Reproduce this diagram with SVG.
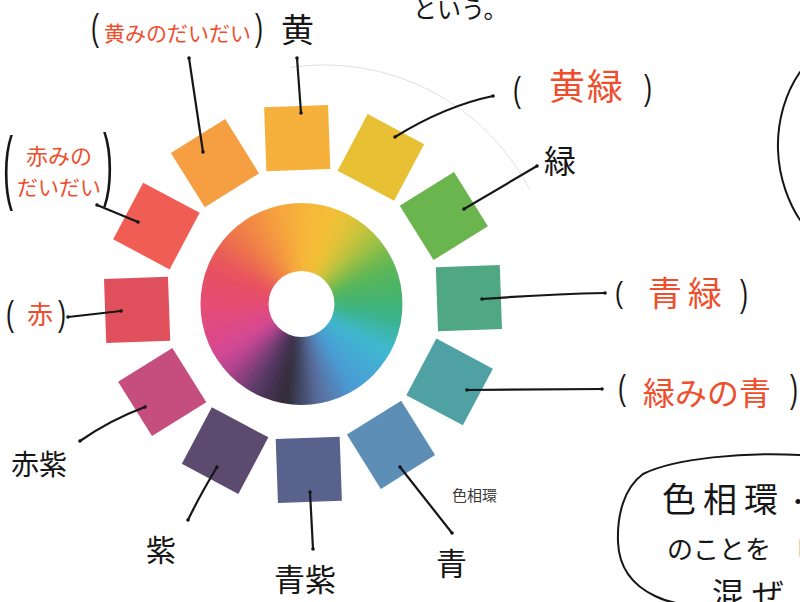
<svg xmlns="http://www.w3.org/2000/svg" width="800" height="602" viewBox="0 0 800 602">
<defs>
<style>
.lbl{font-family:"Noto Sans CJK JP","Noto Sans CJK SC",sans-serif;fill:#161616}
.red{fill:#EE4E2C}
.par{font-family:"Liberation Sans",sans-serif;fill:#161616}
.ln{stroke:#161616;stroke-width:2.2;fill:none;stroke-linecap:round;marker-start:url(#dot);marker-end:url(#dot)}
.bub{stroke:#161616;stroke-width:2;fill:none;stroke-linecap:round}
.seg{fill:none;stroke-width:100}
</style>
<marker id="dot" viewBox="-2 -2 4 4" markerWidth="4" markerHeight="4" markerUnits="userSpaceOnUse"><circle r="1.8" fill="#161616"/></marker>
<filter id="blur" x="-20%" y="-20%" width="140%" height="140%"><feGaussianBlur stdDeviation="6"/></filter>
<clipPath id="ring"><path clip-rule="evenodd" d="M200.5,304a101,101 0 1,0 202,0a101,101 0 1,0 -202,0ZM268.5,304a33,33 0 1,0 66,0a33,33 0 1,0 -66,0Z"/></clipPath>
</defs>
<rect width="800" height="602" fill="#fff"/>
<path d="M290.7,67.3A232,232 0 0 1 530,190" fill="none" stroke="#e0e0e0" stroke-width="1"/>
<g id="wheel" clip-path="url(#ring)">
<g filter="url(#blur)">
<circle class="seg" cx="301.5" cy="304" r="65" pathLength="360" stroke-dasharray="12 348" stroke="#F7B53A" transform="rotate(-96 301.5 304)"/>
<circle class="seg" cx="301.5" cy="304" r="65" pathLength="360" stroke-dasharray="12 348" stroke="#F5BA38" transform="rotate(-86 301.5 304)"/>
<circle class="seg" cx="301.5" cy="304" r="65" pathLength="360" stroke-dasharray="12 348" stroke="#F3BF36" transform="rotate(-76 301.5 304)"/>
<circle class="seg" cx="301.5" cy="304" r="65" pathLength="360" stroke-dasharray="12 348" stroke="#E4C237" transform="rotate(-66 301.5 304)"/>
<circle class="seg" cx="301.5" cy="304" r="65" pathLength="360" stroke-dasharray="12 348" stroke="#C6C33C" transform="rotate(-56 301.5 304)"/>
<circle class="seg" cx="301.5" cy="304" r="65" pathLength="360" stroke-dasharray="12 348" stroke="#A1C143" transform="rotate(-46 301.5 304)"/>
<circle class="seg" cx="301.5" cy="304" r="65" pathLength="360" stroke-dasharray="12 348" stroke="#74BA4D" transform="rotate(-36 301.5 304)"/>
<circle class="seg" cx="301.5" cy="304" r="65" pathLength="360" stroke-dasharray="12 348" stroke="#58B659" transform="rotate(-26 301.5 304)"/>
<circle class="seg" cx="301.5" cy="304" r="65" pathLength="360" stroke-dasharray="12 348" stroke="#4DB566" transform="rotate(-16 301.5 304)"/>
<circle class="seg" cx="301.5" cy="304" r="65" pathLength="360" stroke-dasharray="12 348" stroke="#42B473" transform="rotate(-6 301.5 304)"/>
<circle class="seg" cx="301.5" cy="304" r="65" pathLength="360" stroke-dasharray="12 348" stroke="#3DB48B" transform="rotate(4 301.5 304)"/>
<circle class="seg" cx="301.5" cy="304" r="65" pathLength="360" stroke-dasharray="12 348" stroke="#3EB6AE" transform="rotate(14 301.5 304)"/>
<circle class="seg" cx="301.5" cy="304" r="65" pathLength="360" stroke-dasharray="12 348" stroke="#3FB8D0" transform="rotate(24 301.5 304)"/>
<circle class="seg" cx="301.5" cy="304" r="65" pathLength="360" stroke-dasharray="12 348" stroke="#43AED2" transform="rotate(34 301.5 304)"/>
<circle class="seg" cx="301.5" cy="304" r="65" pathLength="360" stroke-dasharray="12 348" stroke="#46A5D3" transform="rotate(44 301.5 304)"/>
<circle class="seg" cx="301.5" cy="304" r="65" pathLength="360" stroke-dasharray="12 348" stroke="#4A9BD5" transform="rotate(54 301.5 304)"/>
<circle class="seg" cx="301.5" cy="304" r="65" pathLength="360" stroke-dasharray="12 348" stroke="#5284B9" transform="rotate(64 301.5 304)"/>
<circle class="seg" cx="301.5" cy="304" r="65" pathLength="360" stroke-dasharray="12 348" stroke="#5A6D9E" transform="rotate(74 301.5 304)"/>
<circle class="seg" cx="301.5" cy="304" r="65" pathLength="360" stroke-dasharray="12 348" stroke="#444B69" transform="rotate(84 301.5 304)"/>
<circle class="seg" cx="301.5" cy="304" r="65" pathLength="360" stroke-dasharray="12 348" stroke="#2E2A34" transform="rotate(94 301.5 304)"/>
<circle class="seg" cx="301.5" cy="304" r="65" pathLength="360" stroke-dasharray="12 348" stroke="#44324F" transform="rotate(104 301.5 304)"/>
<circle class="seg" cx="301.5" cy="304" r="65" pathLength="360" stroke-dasharray="12 348" stroke="#5A3A6A" transform="rotate(114 301.5 304)"/>
<circle class="seg" cx="301.5" cy="304" r="65" pathLength="360" stroke-dasharray="12 348" stroke="#89407D" transform="rotate(124 301.5 304)"/>
<circle class="seg" cx="301.5" cy="304" r="65" pathLength="360" stroke-dasharray="12 348" stroke="#B84590" transform="rotate(134 301.5 304)"/>
<circle class="seg" cx="301.5" cy="304" r="65" pathLength="360" stroke-dasharray="12 348" stroke="#D44994" transform="rotate(144 301.5 304)"/>
<circle class="seg" cx="301.5" cy="304" r="65" pathLength="360" stroke-dasharray="12 348" stroke="#DB4A89" transform="rotate(154 301.5 304)"/>
<circle class="seg" cx="301.5" cy="304" r="65" pathLength="360" stroke-dasharray="12 348" stroke="#E24B7E" transform="rotate(164 301.5 304)"/>
<circle class="seg" cx="301.5" cy="304" r="65" pathLength="360" stroke-dasharray="12 348" stroke="#E54D74" transform="rotate(174 301.5 304)"/>
<circle class="seg" cx="301.5" cy="304" r="65" pathLength="360" stroke-dasharray="12 348" stroke="#E54E6B" transform="rotate(184 301.5 304)"/>
<circle class="seg" cx="301.5" cy="304" r="65" pathLength="360" stroke-dasharray="12 348" stroke="#E64F62" transform="rotate(194 301.5 304)"/>
<circle class="seg" cx="301.5" cy="304" r="65" pathLength="360" stroke-dasharray="12 348" stroke="#E8595A" transform="rotate(204 301.5 304)"/>
<circle class="seg" cx="301.5" cy="304" r="65" pathLength="360" stroke-dasharray="12 348" stroke="#EC6A51" transform="rotate(214 301.5 304)"/>
<circle class="seg" cx="301.5" cy="304" r="65" pathLength="360" stroke-dasharray="12 348" stroke="#F07C48" transform="rotate(224 301.5 304)"/>
<circle class="seg" cx="301.5" cy="304" r="65" pathLength="360" stroke-dasharray="12 348" stroke="#F28B44" transform="rotate(234 301.5 304)"/>
<circle class="seg" cx="301.5" cy="304" r="65" pathLength="360" stroke-dasharray="12 348" stroke="#F49A40" transform="rotate(244 301.5 304)"/>
<circle class="seg" cx="301.5" cy="304" r="65" pathLength="360" stroke-dasharray="12 348" stroke="#F6A83D" transform="rotate(254 301.5 304)"/>
</g>
</g>
<g id="sq-ki" transform="translate(297.2,138.1) rotate(-2)"><rect x="-32" y="-32" width="64" height="64" fill="#F6B13D"/></g>
<g id="sq-kimidori" transform="translate(380.9,157.4) rotate(28)"><rect x="-32" y="-32" width="64" height="64" fill="#E7C133"/></g>
<g id="sq-midori" transform="translate(443.8,216) rotate(58)"><rect x="-32" y="-32" width="64" height="64" fill="#6BB54E"/></g>
<g id="sq-aomidori" transform="translate(468.9,298.2) rotate(88)"><rect x="-32" y="-32" width="64" height="64" fill="#4FA784"/></g>
<g id="sq-midorimi-ao" transform="translate(449.6,381.9) rotate(118)"><rect x="-32" y="-32" width="64" height="64" fill="#50A1A3"/></g>
<g id="sq-ao" transform="translate(391,444.8) rotate(148)"><rect x="-32" y="-32" width="64" height="64" fill="#5C8EB6"/></g>
<g id="sq-aomurasaki" transform="translate(308.8,469.9) rotate(178)"><rect x="-32" y="-32" width="64" height="64" fill="#58628C"/></g>
<g id="sq-murasaki" transform="translate(225.1,450.6) rotate(208)"><rect x="-32" y="-32" width="64" height="64" fill="#5C4B6E"/></g>
<g id="sq-akamurasaki" transform="translate(162.2,392) rotate(238)"><rect x="-32" y="-32" width="64" height="64" fill="#C54E7E"/></g>
<g id="sq-aka" transform="translate(137.1,309.8) rotate(268)"><rect x="-32" y="-32" width="64" height="64" fill="#E0505C"/></g>
<g id="sq-akami-daidai" transform="translate(156.4,226.1) rotate(298)"><rect x="-32" y="-32" width="64" height="64" fill="#EF5D55"/></g>
<g id="sq-kimi-daidai" transform="translate(215,163.2) rotate(328)"><rect x="-32" y="-32" width="64" height="64" fill="#F59E42"/></g>
<g id="connectors">
<path class="ln" d="M189,58L203,152"/>
<path class="ln" d="M297,58L301,113"/>
<path class="ln" d="M493,96Q445,106 395,137"/>
<path class="ln" d="M537,166L464,209"/>
<path class="ln" d="M605,293Q550,294 482,299"/>
<path class="ln" d="M602,389L467,390"/>
<path class="ln" d="M400,467L452,533"/>
<path class="ln" d="M310,492L313,549"/>
<path class="ln" d="M217,467Q200,495 188,520"/>
<path class="ln" d="M145,407Q110,420 80,441"/>
<path class="ln" d="M68,317L121,311"/>
<path class="ln" d="M97,205L138,222"/>
</g>
<g id="lbl-kimi-daidai">
<text class="par" font-size="24" transform="translate(91,40) scale(1,1.55)">(</text>
<text class="lbl red" x="104" y="41" font-size="21">黄みのだいだい</text>
<text class="par" font-size="24" transform="translate(255,40) scale(1,1.55)">)</text>
</g>
<g id="lbl-ki"><text class="lbl" x="281" y="42" font-size="33">黄</text></g>
<g id="lbl-kimidori">
<text class="par" font-size="24" transform="translate(513,102) scale(1,1.5)">(</text>
<text class="lbl red" x="549" y="100" font-size="36" letter-spacing="2">黄緑</text>
<text class="par" font-size="24" transform="translate(644,100) scale(1,1.5)">)</text>
</g>
<g id="lbl-midori"><text class="lbl" x="544" y="173" font-size="32">緑</text></g>
<g id="lbl-aomidori">
<text class="par" font-size="24" transform="translate(615,303) scale(1,1.25)">(</text>
<text class="lbl red" x="648" y="306" font-size="34" letter-spacing="6">青緑</text>
<text class="par" font-size="24" transform="translate(740,306) scale(1,1.55)">)</text>
</g>
<g id="lbl-midorimi-ao">
<text class="par" font-size="24" transform="translate(618,400) scale(1,1.5)">(</text>
<text class="lbl red" x="643" y="405" font-size="32">緑みの青</text>
<text class="par" font-size="24" transform="translate(790,402) scale(1,1.6)">)</text>
</g>
<g id="lbl-ao"><text class="lbl" x="436" y="575" font-size="31">青</text></g>
<g id="lbl-aomurasaki"><text class="lbl" x="274" y="591" font-size="31">青紫</text></g>
<g id="lbl-murasaki"><text class="lbl" x="146" y="561" font-size="30">紫</text></g>
<g id="lbl-akamurasaki"><text class="lbl" x="11" y="475" font-size="28">赤紫</text></g>
<g id="lbl-aka">
<text class="par" font-size="24" transform="translate(6,326) scale(1,1.45)">(</text>
<text class="lbl red" x="27" y="324" font-size="26">赤</text>
<text class="par" font-size="24" transform="translate(58,326) scale(1,1.45)">)</text>
</g>
<g id="lbl-akami-daidai">
<text class="par" font-size="30" transform="translate(3,194) scale(1,2.7)">(</text>
<text class="lbl red" x="26" y="164" font-size="22">赤みの</text>
<text class="lbl red" x="17" y="195" font-size="21">だいだい</text>
<text class="par" font-size="30" transform="translate(103,190) scale(1,2.65)">)</text>
</g>
<g id="caption"><text x="452" y="501" font-size="15" font-family="'Noto Sans CJK JP',sans-serif" fill="#3a3a3a">色相環</text></g>
<g id="note-top"><text class="lbl" x="413" y="18" font-size="24">という。</text></g>
<g id="bubble-right"><path class="bub" d="M800,72C786,92 777,120 778,150C779,180 790,205 800,220"/></g>
<g id="bubble-bottom">
<path class="bub" d="M800,455C745,452 675,458 643,474C624,488 617,515 618,542C619,568 632,585 655,596C663,600 670,602 676,603"/>
<text class="lbl" x="662" y="512" font-size="34" letter-spacing="7">色相環</text>
<text class="lbl" x="786" y="510" font-size="24">・</text>
<text class="lbl" x="667" y="559" font-size="26">のことを</text>
<text class="lbl" x="783" y="562" font-size="26">「</text>
<text class="lbl" x="712" y="606" font-size="32" letter-spacing="8">混ぜ</text>
</g>
</svg>
